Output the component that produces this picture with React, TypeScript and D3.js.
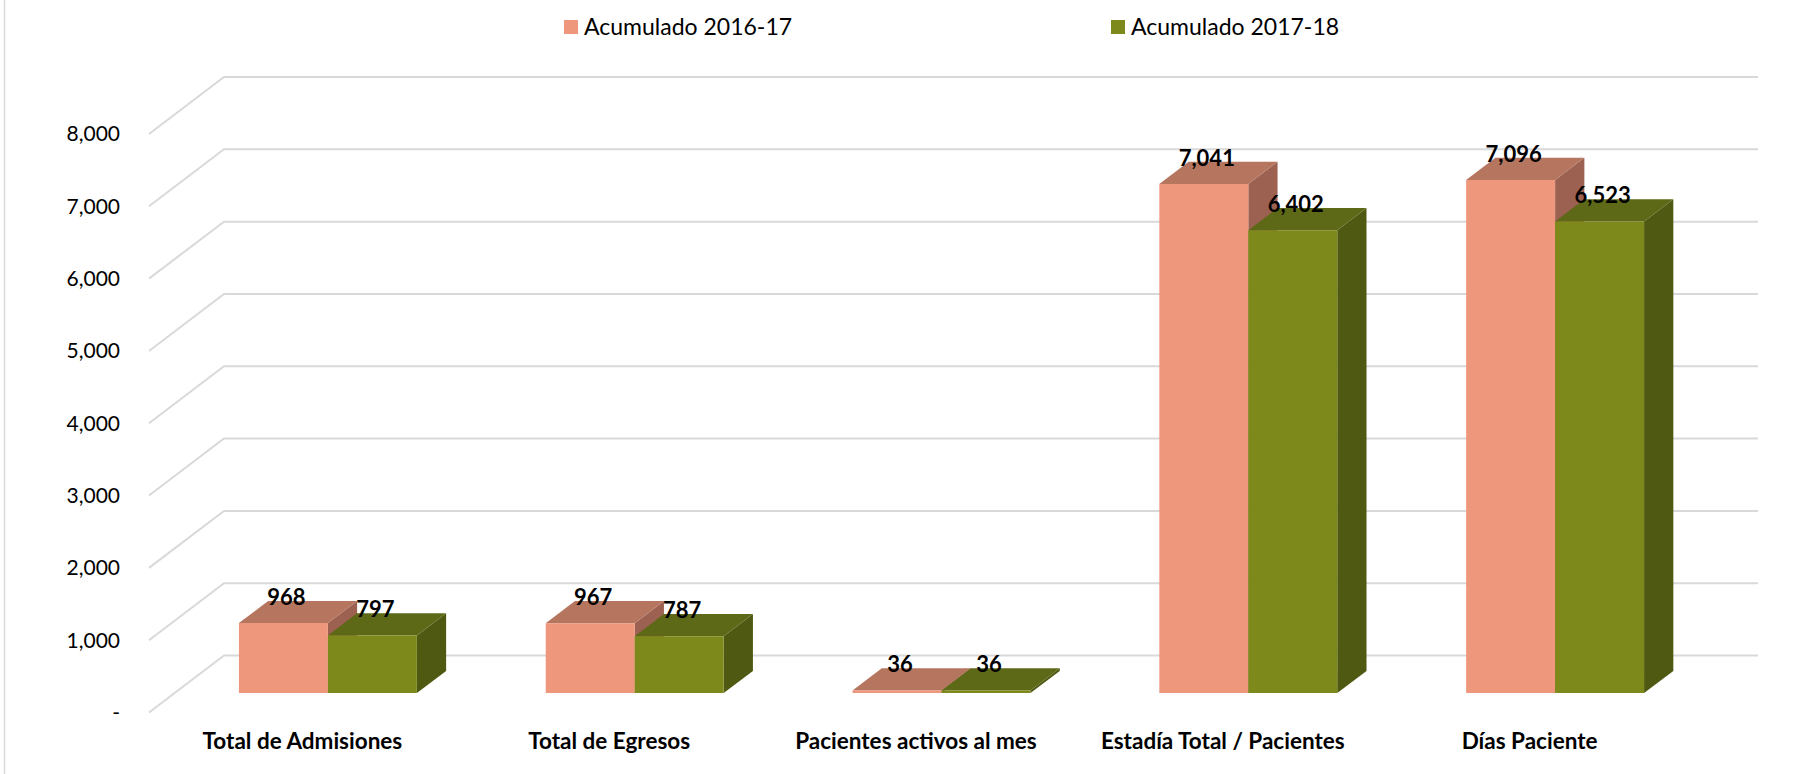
import React from "react";
import * as d3 from "d3";

const categories = [
	"Total de Admisiones",
	"Total de Egresos",
	"Pacientes activos al mes",
	"Estadía Total / Pacientes",
	"Días Paciente"
];
const seriesNames = ["Acumulado 2016-17", "Acumulado 2017-18"];
const values2016 = [968, 967, 36, 7041, 7096];
const values2017 = [797, 787, 36, 6402, 6523];
const yTicks = [0, 1000, 2000, 3000, 4000, 5000, 6000, 7000, 8000];

const WIDTH = 1796, HEIGHT = 774;
const FONT = "Lato, 'Open Sans', sans-serif";

// front face / top / side of each series
const COLORS = [
	{ front: "#EE977D", top: "#B5755F", side: "#9C6150" },
	{ front: "#7E891C", top: "#5E6917", side: "#4F5912" }
];

// fake 3d: depth offset of the back wall, bars sit inside the depth
const DEPTH = { dx: 75, dy: 57 };
const BAR_Z = [0.34, 0.73];

const fmt = (v: number) => (v === 0 ? "-" : d3.format(",")(v));

export default function App() {
	const x0 = 149, x1 = 1683;

	const xScale = d3.scaleBand<string>()
		.domain(categories)
		.range([x0, x1])
		.paddingInner(0.42)
		.paddingOuter(0.21);
	const sScale = d3.scaleBand<number>()
		.domain([0, 1])
		.range([0, xScale.bandwidth()]);
	const yScale = d3.scaleLinear().domain([0, 8000]).range([712.5, 134]);

	const proj = (x: number, v: number, z: number): [number, number] =>
		[x + z * DEPTH.dx, yScale(v) - z * DEPTH.dy];
	const poly = (pts: [number, number][]) => pts.map(p => p.join(",")).join(" ");

	const series = [values2016, values2017];

	const bars: JSX.Element[] = [];
	const labels: JSX.Element[] = [];
	categories.forEach((c, i) => {
		series.forEach((vals, s) => {
			const v = vals[i];
			const xl = (xScale(c) as number) + (sScale(s) as number);
			const xr = xl + sScale.bandwidth();
			const [zf, zb] = BAR_Z;
			const col = COLORS[s];
			bars.push(
				<g key={c + s}>
					<polygon points={poly([proj(xr, 0, zf), proj(xr, v, zf), proj(xr, v, zb), proj(xr, 0, zb)])} fill={col.side}/>
					<polygon points={poly([proj(xl, v, zf), proj(xr, v, zf), proj(xr, v, zb), proj(xl, v, zb)])} fill={col.top}/>
					<polygon points={poly([proj(xl, 0, zf), proj(xr, 0, zf), proj(xr, v, zf), proj(xl, v, zf)])} fill={col.front}/>
				</g>
			);
			const cx = proj((xl + xr) / 2, v, zf)[0] + 3;
			const by = proj(xl, v, zb)[1] + 4;
			labels.push(
				<text key={"l" + c + s} x={cx} y={by} textAnchor="middle"
					fontFamily={FONT} fontWeight="bold" fontSize={22} fill="#000">{fmt(v)}</text>
			);
		});
	});

	return (
		<svg width={WIDTH} height={HEIGHT} style={{ position: "absolute", left: 0, top: 0, background: "#fff" }}>
			<line x1={4.5} x2={4.5} y1={0} y2={HEIGHT} stroke="#D9D9D9" strokeWidth={1.5}/>

			<g className="grid" stroke="#D9D9D9" strokeWidth={2} fill="none">
				{yTicks.map(t => {
					const a = proj(x0, t, 0), b = proj(x0, t, 1), c = proj(x1, t, 1);
					return <polyline key={t} points={poly([a, b, c])}/>;
				})}
			</g>

			<g className="y axis" fontFamily={FONT} fontSize={21} fill="#000">
				{yTicks.map(t => (
					<text key={t} x={120} y={yScale(t)} dy="0.35em" textAnchor="end">{fmt(t)}</text>
				))}
			</g>

			<g className="bars">{bars}</g>
			<g className="labels">{labels}</g>

			<g className="x axis" fontFamily={FONT} fontSize={22.5} fontWeight="bold" fill="#000">
				{categories.map(c => (
					<text key={c} x={(xScale(c) as number) + xScale.bandwidth() / 2} y={749} textAnchor="middle">{c}</text>
				))}
			</g>

			<g className="legend" fontFamily={FONT} fontSize={23} fill="#000">
				{seriesNames.map((n, s) => {
					const lx = [564, 1111][s];
					return (
						<g key={n} transform={`translate(${lx}, 20)`}>
							<rect width={14} height={14} fill={COLORS[s].front}/>
							<text x={20} y={14.5}>{n}</text>
						</g>
					);
				})}
			</g>
		</svg>
	);
}
